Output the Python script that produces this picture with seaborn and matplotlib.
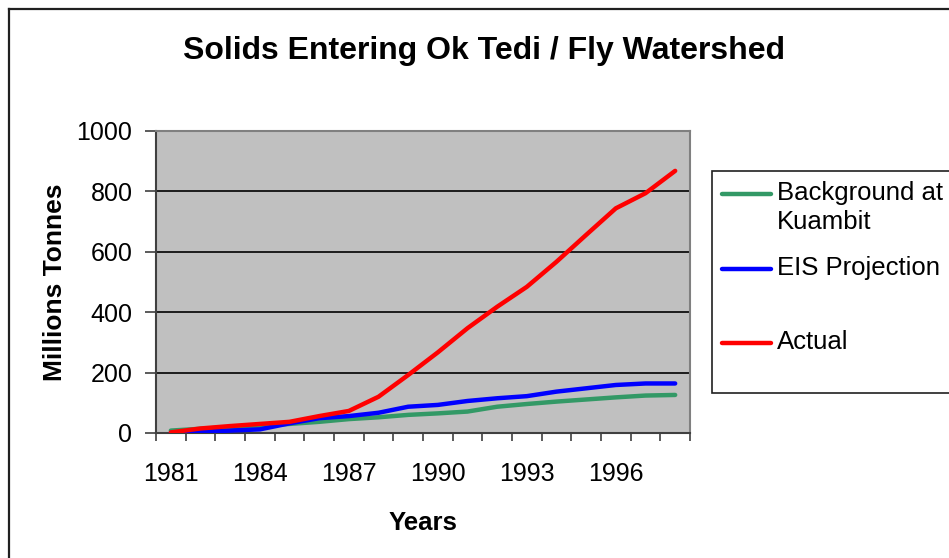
import numpy as np
import pandas as pd
import seaborn as sns
import matplotlib.pyplot as plt
from matplotlib.lines import Line2D
from matplotlib.patches import Rectangle

years = list(range(1981, 1999))
background = [8, 14, 19, 23, 30, 37, 46, 52, 60, 65, 71, 87, 96, 104, 111, 118, 124, 126]
eis = [0, 4, 8, 12, 32, 49, 56, 67, 87, 93, 106, 115, 122, 137, 148, 159, 164, 164]
actual = [2, 15, 23, 30, 37, 56, 73, 120, 192, 267, 347, 418, 484, 567, 656, 744, 794, 868]

series_names = ['Background at\nKuambit', 'EIS Projection', 'Actual']
colors = ['#339966', '#0000FF', '#FF0000']
ytick_vals = [0, 200, 400, 600, 800, 1000]
xtick_years = [1981, 1984, 1987, 1990, 1993, 1996]

df = pd.concat([
    pd.DataFrame({'Year': years, 'Value': background, 'Series': series_names[0]}),
    pd.DataFrame({'Year': years, 'Value': eis, 'Series': series_names[1]}),
    pd.DataFrame({'Year': years, 'Value': actual, 'Series': series_names[2]}),
])

plt.rcParams['font.family'] = ['Liberation Sans', 'DejaVu Sans']

W, H = 949, 558
fig = plt.figure(figsize=(W / 100, H / 100), dpi=100)
ax = fig.add_axes([156 / W, 1 - 433 / H, (690 - 156) / W, (433 - 131) / H])
ax.set_facecolor('#C0C0C0')

sns.lineplot(data=df, x='Year', y='Value', hue='Series', hue_order=series_names,
             palette=colors, linewidth=3.2, legend=False, ax=ax,
             solid_capstyle='round', solid_joinstyle='round', zorder=3)

ax.set_xlim(1980.5, 1998.5)
ax.set_ylim(0, 1000)
ax.set_yticks(ytick_vals)
for v in ytick_vals[1:-1]:
    ax.axhline(v, color='black', linewidth=1.2, zorder=1)

ax.set_xticks(xtick_years)
ax.set_xticklabels([str(y) for y in xtick_years])
ax.set_xticks(np.arange(1980.5, 1999.0, 1.0), minor=True)
ax.tick_params(axis='x', which='major', length=0, pad=21, labelsize=18)
ax.tick_params(axis='x', which='minor', length=6, width=1.2, color='#404040', direction='out')
ax.tick_params(axis='y', length=8, width=1.2, color='#404040', pad=9, labelsize=18)

for s in ['left', 'bottom']:
    ax.spines[s].set_color('#404040')
    ax.spines[s].set_linewidth(1.5)
for s in ['top', 'right']:
    ax.spines[s].set_color('#808080')
    ax.spines[s].set_linewidth(1.5)

ax.set_xlabel('Years', fontsize=18.5, fontweight='bold', labelpad=18)
ax.set_ylabel('Millions Tonnes', fontsize=19, fontweight='bold', labelpad=7)

fig.text(484 / W, 1 - 51 / H, 'Solids Entering Ok Tedi / Fly Watershed',
         ha='center', va='center', fontsize=23, fontweight='bold')

# chart border (cut off on right and bottom)
fig.add_artist(Line2D([8.5 / W, 8.5 / W], [0, 1 - 9 / H], transform=fig.transFigure,
                      color='#202020', linewidth=1.6))
fig.add_artist(Line2D([8.5 / W, 1], [1 - 9 / H, 1 - 9 / H], transform=fig.transFigure,
                      color='#202020', linewidth=1.6))

# legend box
fig.add_artist(Rectangle((712 / W, 1 - 393 / H), (960 - 712) / W, (393 - 171) / H,
                         transform=fig.transFigure, facecolor='white',
                         edgecolor='#202020', linewidth=1.2))
leg_y = [194, 269, 343]
for name, c, yy in zip(series_names, colors, leg_y):
    fig.add_artist(Line2D([722 / W, 771 / W], [1 - yy / H, 1 - yy / H],
                          transform=fig.transFigure, color=c, linewidth=3.2,
                          solid_capstyle='round'))
    fig.text(777 / W, 1 - (yy - 13) / H, name, ha='left', va='top', fontsize=18.5,
             linespacing=1.25)

fig.savefig('out.png', dpi=100)
